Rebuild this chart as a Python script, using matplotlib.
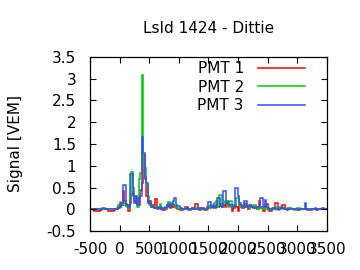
import numpy as np
import matplotlib
matplotlib.use("Agg")
import matplotlib.pyplot as plt

# trace binned in 25 ns slots, from -500 to 3500 ns
bin_width = 25
t_start = -500

pmt1 = [
    0.0, 0.0, -0.02, -0.03, -0.03, -0.03, -0.03, -0.02, 0.0, 0.0,
    0.0, 0.0, -0.03, -0.03, -0.03, -0.03, -0.02, 0.0, 0.0, 0.02,
    0.05, 0.1, 0.42, 0.2, 0.12, 0.1, -0.03, 0.15, 0.35, 0.4,
    0.2, 0.15, 0.25, 0.1, 0.45, 0.6, 1.25, 0.7, 0.3, 0.15,
    0.2, 0.05, 0.1, 0.05, 0.23, 0.05, 0.02, 0.0, 0.03, -0.02,
    -0.02, 0.0, 0.05, 0.08, 0.03, 0.05, 0.1, 0.05, 0.03, 0.0,
    0.0, -0.02, -0.02, 0.0, 0.06, 0.06, 0.0, -0.02, 0.0, 0.02,
    0.0, 0.11, 0.11, 0.0, -0.02, 0.0, 0.02, 0.0, -0.02, 0.05,
    0.05, 0.02, 0.06, 0.08, 0.03, 0.1, 0.05, 0.08, 0.12, 0.05,
    0.1, 0.05, 0.15, 0.08, 0.1, 0.05, -0.03, 0.02, 0.1, 0.05,
    -0.03, 0.1, 0.05, 0.02, 0.15, 0.05, 0.1, 0.0, 0.1, 0.05,
    0.02, 0.05, 0.06, 0.0, 0.18, 0.03, 0.05, -0.03, 0.1, 0.13,
    0.0, -0.03, -0.03, 0.0, 0.02, 0.14, 0.14, -0.02, 0.0, 0.03,
    0.1, 0.1, 0.0, -0.02, 0.0, 0.03, 0.0, 0.0, 0.0, 0.0,
    -0.02, -0.02, 0.0, 0.0, 0.0, 0.0, 0.0, -0.02, -0.02, -0.02,
    0.0, 0.0, 0.0, -0.02, 0.0, 0.0, 0.0, 0.0, 0.0, 0.0,
]
pmt2 = [
    0.0, 0.0, 0.0, 0.0, 0.0, 0.0, 0.0, 0.0, 0.0, 0.0,
    0.0, 0.0, 0.0, 0.0, 0.0, 0.0, 0.0, 0.0, 0.02, 0.1,
    0.16, 0.12, 0.1, 0.15, 0.08, 0.05, 0.02, 0.2, 0.85, 0.5,
    0.3, 0.2, 0.05, 0.7, 0.84, 3.08, 1.0, 0.95, 0.55, 0.3,
    0.1, 0.05, 0.08, 0.02, 0.05, 0.02, 0.05, 0.12, 0.03, 0.0,
    0.0, 0.02, 0.1, 0.17, 0.1, 0.15, 0.13, 0.08, 0.05, 0.02,
    0.0, 0.0, 0.0, 0.0, 0.02, 0.0, -0.02, 0.0, 0.0, 0.0,
    0.0, 0.02, 0.0, 0.0, 0.02, 0.0, 0.0, -0.02, 0.0, 0.0,
    0.05, 0.1, 0.05, 0.02, 0.15, 0.2, 0.05, 0.33, 0.33, 0.1,
    0.15, 0.2, 0.2, 0.05, 0.2, 0.2, 0.05, 0.05, 0.1, 0.25,
    0.25, 0.1, 0.05, 0.08, 0.13, 0.13, 0.05, 0.02, 0.08, 0.05,
    0.1, 0.1, 0.02, 0.0, 0.05, 0.03, 0.05, 0.02, 0.0, 0.02,
    -0.02, 0.0, 0.0, 0.02, 0.0, 0.0, 0.05, 0.05, 0.0, 0.0,
    0.04, 0.0, 0.0, 0.04, 0.04, 0.0, 0.0, 0.0, -0.02, 0.0,
    0.04, 0.04, 0.0, 0.0, 0.0, 0.0, 0.0, 0.0, 0.0, 0.0,
    0.0, 0.0, 0.0, 0.0, 0.0, 0.0, 0.0, 0.0, 0.0, 0.0,
]
pmt3 = [
    0.0, 0.0, 0.0, 0.0, 0.0, 0.0, 0.0, 0.0, 0.02, 0.02,
    0.0, 0.0, 0.0, 0.0, 0.0, 0.0, 0.0, 0.0, 0.0, 0.05,
    0.12, 0.15, 0.55, 0.55, 0.1, 0.1, 0.05, 0.8, 0.8, 0.3,
    0.15, 0.3, 0.1, 0.25, 0.3, 1.65, 1.3, 0.75, 0.6, 0.2,
    0.15, 0.1, 0.05, 0.02, 0.02, 0.0, 0.02, 0.05, 0.0, 0.02,
    0.0, 0.05, 0.1, 0.11, 0.05, 0.1, 0.2, 0.25, 0.1, 0.08,
    0.08, 0.02, 0.0, 0.0, 0.0, 0.02, 0.0, 0.0, 0.0, 0.02,
    0.0, 0.0, 0.0, 0.02, 0.03, 0.03, 0.0, 0.0, 0.0, 0.0,
    0.17, 0.17, 0.05, 0.1, 0.05, 0.08, 0.27, 0.27, 0.08, 0.05,
    0.43, 0.43, 0.15, 0.16, 0.1, 0.1, 0.1, 0.05, 0.48, 0.48,
    0.3, 0.15, 0.1, 0.05, 0.2, 0.2, 0.05, 0.08, 0.1, 0.05,
    0.05, 0.02, 0.02, 0.05, 0.05, 0.27, 0.27, 0.05, 0.21, 0.05,
    0.02, 0.0, 0.0, 0.0, 0.02, 0.0, 0.0, 0.02, 0.02, 0.05,
    0.02, 0.0, 0.0, 0.0, 0.0, 0.0, 0.0, 0.0, 0.0, 0.0,
    0.0, 0.0, 0.0, 0.0, 0.0, 0.15, 0.0, 0.0, 0.0, 0.0,
    0.0, 0.0, 0.02, 0.0, 0.0, 0.0, 0.0, 0.02, 0.0, 0.0,
]

x_ticks = [-500, 0, 500, 1000, 1500, 2000, 2500, 3000, 3500]
y_ticks = [-0.5, 0, 0.5, 1, 1.5, 2, 2.5, 3, 3.5]
y_tick_labels = ["-0.5", "0", "0.5", "1", "1.5", "2", "2.5", "3", "3.5"]

plt.rcParams["font.family"] = ["DejaVu Sans"]
fs = 11

fig = plt.figure(figsize=(3.6, 2.7), dpi=100)
ax = fig.add_axes([0.25, 0.1444, 0.6575, 0.6446])

edges = t_start + bin_width * np.arange(len(pmt1) + 1)
ax.stairs(pmt1, edges, color="#ff0000", lw=1.1, label="PMT 1", baseline=None)
ax.stairs(pmt2, edges, color="#00cc00", lw=1.1, label="PMT 2", baseline=None)
ax.stairs(pmt3, edges, color="#3050ff", lw=1.1, label="PMT 3", baseline=None)

ax.set_xlim(-500, 3500)
ax.set_ylim(-0.5, 3.5)
ax.set_xticks(x_ticks)
ax.set_xticklabels([str(v) for v in x_ticks], fontsize=fs)
ax.set_yticks(y_ticks)
ax.set_yticklabels(y_tick_labels, fontsize=fs)
ax.tick_params(direction="in", length=4, width=0.8, top=True, right=True,
               color="black")
ax.tick_params(axis="x", pad=8)
ax.tick_params(axis="y", pad=10)
for s in ax.spines.values():
    s.set_linewidth(0.9)

ax.set_ylabel("Signal [VEM]", fontsize=fs, labelpad=17)
ax.set_title("LsId 1424 - Dittie", fontsize=fs, pad=17)

ax.legend(loc="upper right", bbox_to_anchor=(0.908, 0.975), frameon=False,
          markerfirst=False, fontsize=fs, handlelength=3.1, handletextpad=0.9,
          labelspacing=0.22, borderpad=0, borderaxespad=0)

fig.savefig("out.png", dpi=100)
